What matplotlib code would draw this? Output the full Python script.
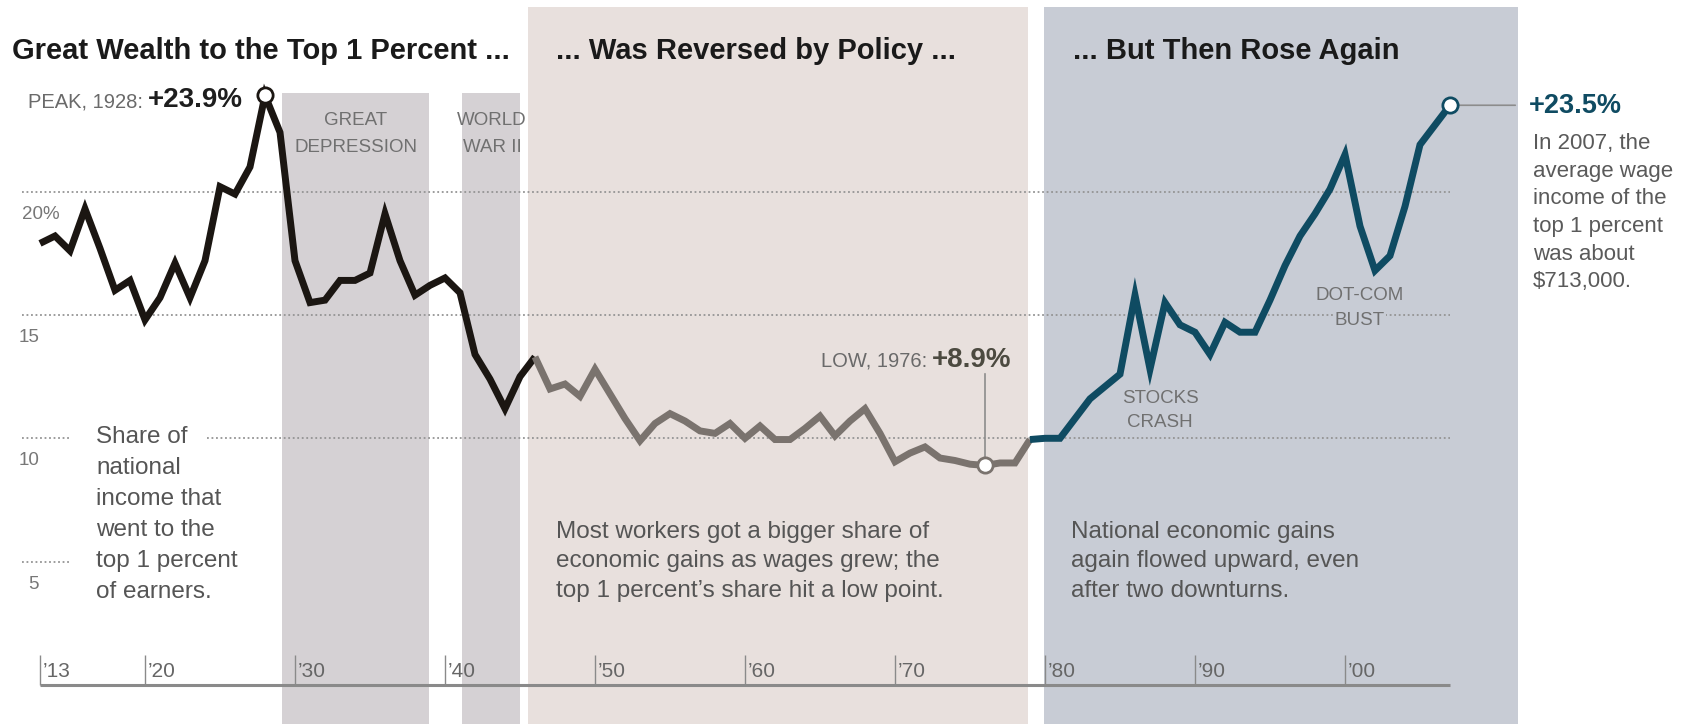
import matplotlib
matplotlib.use("Agg")
import matplotlib.pyplot as plt
import numpy as np

# ---- data -------------------------------------------------------------
years = np.arange(1913, 2008)
share = [
    17.9, 18.2, 17.6, 19.3, 17.7, 16.0, 16.4, 14.8, 15.7, 17.1,   # 1913-1922
    15.7, 17.2, 20.2, 19.9, 21.0, 23.9, 22.4, 17.2, 15.5, 15.6,   # 1923-1932
    16.4, 16.4, 16.7, 19.1, 17.2, 15.8, 16.2, 16.5, 15.9, 13.4,   # 1933-1942
    12.4, 11.2, 12.5, 13.3, 12.0, 12.2, 11.7, 12.8, 11.8, 10.8,   # 1943-1952
    9.9, 10.6, 11.0, 10.7, 10.3, 10.2, 10.6, 10.0, 10.5, 9.95,    # 1953-1962
    9.95, 10.4, 10.9, 10.1, 10.7, 11.2, 10.2, 9.05, 9.4, 9.65,    # 1963-1972
    9.2, 9.1, 8.95, 8.9, 9.0, 9.0, 9.95, 10.0, 10.0, 10.8,        # 1973-1982
    11.6, 12.1, 12.6, 15.8, 12.8, 15.5, 14.6, 14.3, 13.4, 14.7,   # 1983-1992
    14.3, 14.3, 15.6, 17.0, 18.2, 19.1, 20.1, 21.5, 18.6, 16.8,   # 1993-2002
    17.4, 19.4, 21.9, 22.7, 23.5,                                 # 2003-2007
]
share = np.array(share)

tick_years = [1913, 1920, 1930, 1940, 1950, 1960, 1970, 1980, 1990, 2000]
tick_labels = ["\u201913", "\u201920", "\u201930", "\u201940", "\u201950",
               "\u201960", "\u201970", "\u201980", "\u201990", "\u201900"]
grid_values = [20, 15, 10, 5]
grid_labels = ["20%", "15", "10", "5"]

era_breaks = [1913, 1946, 1979, 2007]
peak_year, low_year, last_year = 1928, 1976, 2007

# ---- layout helpers ---------------------------------------------------
W, H = 1692, 724
PX_PER_YEAR = 15.0
PX_PER_PCT = 24.67
X0_PX, Y0_PX = 40.0, 685.0          # pixel position of 1913 / 0 %

def yr(px):
    return 1913 + (px - X0_PX) / PX_PER_YEAR

def pct(py):
    return (Y0_PX - py) / PX_PER_PCT

plt.rcParams["font.family"] = ["Liberation Sans", "DejaVu Sans"]

fig = plt.figure(figsize=(W / 100, H / 100), dpi=100)
fig.patch.set_facecolor("white")
ax = fig.add_axes([0, 0, 1, 1])
ax.set_xlim(yr(0), yr(W))
ax.set_ylim(pct(H), pct(0))
ax.axis("off")

def put(px, py, s, **kw):
    kw.setdefault("va", "baseline")
    return fig.text(px / W, 1 - py / H, s, **kw)

# ---- shaded periods ---------------------------------------------------
C_EVENT = "#d5d1d4"
C_POLICY = "#e8e0dd"
C_RISE = "#c8ccd5"
top_event = 1 - 93 / H
top_panel = 1 - 7 / H
ax.axvspan(yr(282), yr(429), ymin=0, ymax=top_event, color=C_EVENT, lw=0, zorder=0)
ax.axvspan(yr(462), yr(520), ymin=0, ymax=top_event, color=C_EVENT, lw=0, zorder=0)
ax.axvspan(yr(528), yr(1028), ymin=0, ymax=top_panel, color=C_POLICY, lw=0, zorder=0)
ax.axvspan(yr(1044), yr(1518), ymin=0, ymax=top_panel, color=C_RISE, lw=0, zorder=0)

# ---- gridlines --------------------------------------------------------
dots = dict(color="#949494", lw=1.3, linestyle=(0, (1, 1.5)), zorder=1)
grid_spans = {
    20: [(yr(22), 2007)],
    15: [(yr(22), 2007)],
    10: [(yr(22), yr(71)), (yr(207), 2007)],
    5: [(yr(22), yr(71))],
}
for v, lab in zip(grid_values, grid_labels):
    for a, b in grid_spans[v]:
        ax.plot([a, b], [v, v], **dots)
    gy = Y0_PX - v * PX_PER_PCT
    if lab.endswith("%"):
        put(22, gy + 27, lab, ha="left", fontsize=13.5, color="#777777")
    else:
        put(39, gy + 27, lab, ha="right", fontsize=13.5, color="#777777")

# ---- x axis -----------------------------------------------------------
ax.plot([years[0], years[-1]], [0, 0], color="#8a8a8a", lw=2.2,
        solid_capstyle="butt", zorder=2)
ax.vlines(tick_years, 0, pct(655), color="#8a8a8a", lw=1.0, zorder=2)
for ty, tl in zip(tick_years, tick_labels):
    tx = X0_PX + (ty - 1913) * PX_PER_YEAR
    put(tx + 3, 677, tl, ha="left", fontsize=15, color="#666666")

# ---- the series, in three eras ----------------------------------------
era_colors = ["#1b1612", "#7a736e", "#0f4b62"]
for (a, b), col in zip(zip(era_breaks[:-1], era_breaks[1:]), era_colors):
    m = (years >= a) & (years <= b)
    ax.plot(years[m], share[m], color=col, lw=5.0, solid_joinstyle="miter",
            solid_capstyle="butt", zorder=3)

def value_at(y):
    return share[years == y][0]

marks = [(peak_year, era_colors[0]), (low_year, era_colors[1]),
         (last_year, era_colors[2])]
for y, col in marks:
    ax.plot([y], [value_at(y)], marker="o", ms=11, mfc="white", mec=col,
            mew=2.0, zorder=5)

# connector lines from the labels to their points
ax.annotate("", xy=(low_year, value_at(low_year)), xytext=(0, 66),
            textcoords="offset points",
            arrowprops=dict(arrowstyle="-", color="#8c8c8c", lw=1.2,
                            shrinkA=0, shrinkB=6), zorder=4)
ax.annotate("", xy=(last_year, value_at(last_year)), xytext=(47, 0),
            textcoords="offset points",
            arrowprops=dict(arrowstyle="-", color="#8c8c8c", lw=1.2,
                            shrinkA=0, shrinkB=6), zorder=4)

# ---- headings ---------------------------------------------------------
title_kw = dict(fontsize=21, fontweight="bold", color="#1a1a1a")
put(12, 59, "Great Wealth to the Top 1 Percent ...", ha="left", **title_kw)
put(556, 59, "... Was Reversed by Policy ...", ha="left", **title_kw)
put(1073, 59, "... But Then Rose Again", ha="left", **title_kw)

# ---- point labels -----------------------------------------------------
put(143, 107, "PEAK, 1928:", ha="right", fontsize=14.5, color="#6a6a6a")
put(148, 107, f"+{value_at(peak_year):.1f}%", ha="left", fontsize=20,
    fontweight="bold", color="#1e1e1e")

put(927, 367, "LOW, 1976:", ha="right", fontsize=14.5, color="#6a6a6a")
put(932, 367, f"+{value_at(low_year):.1f}%", ha="left", fontsize=20,
    fontweight="bold", color="#4c4a40")

put(1529, 113, f"+{value_at(last_year):.1f}%", ha="left", fontsize=19.5,
    fontweight="bold", color=era_colors[2])
note = ["In 2007, the", "average wage", "income of the", "top 1 percent",
        "was about", "$713,000."]
for i, line in enumerate(note):
    put(1533, 149 + i * 27.7, line, ha="left", fontsize=16, color="#5a5a5a")

# ---- event labels -----------------------------------------------------
small = dict(ha="center", fontsize=13.5, color="#707070")
put(356, 125, "GREAT", **small)
put(356, 152, "DEPRESSION", **small)
put(492, 125, "WORLD", **small)
put(492, 152, "WAR II", **small)
put(1160, 403, "STOCKS", **small)
put(1160, 427, "CRASH", **small)
put(1360, 300, "DOT-COM", bbox=dict(fc=C_RISE, ec="none", pad=1), **small)
put(1360, 325, "BUST", bbox=dict(fc=C_RISE, ec="none", pad=1), **small)

# ---- explanatory text -------------------------------------------------
body = dict(ha="left", fontsize=17.5, color="#555555")
left_note = ["Share of", "national", "income that", "went to the",
             "top 1 percent", "of earners."]
for i, line in enumerate(left_note):
    put(96, 443 + i * 31, line, **body)

mid_note = ["Most workers got a bigger share of",
            "economic gains as wages grew; the",
            "top 1 percent\u2019s share hit a low point."]
for i, line in enumerate(mid_note):
    put(556, 538 + i * 29.5, line, **body)

right_note = ["National economic gains", "again flowed upward, even",
              "after two downturns."]
for i, line in enumerate(right_note):
    put(1071, 538 + i * 29.5, line, **body)

fig.savefig("out.png", dpi=100, facecolor="white")
